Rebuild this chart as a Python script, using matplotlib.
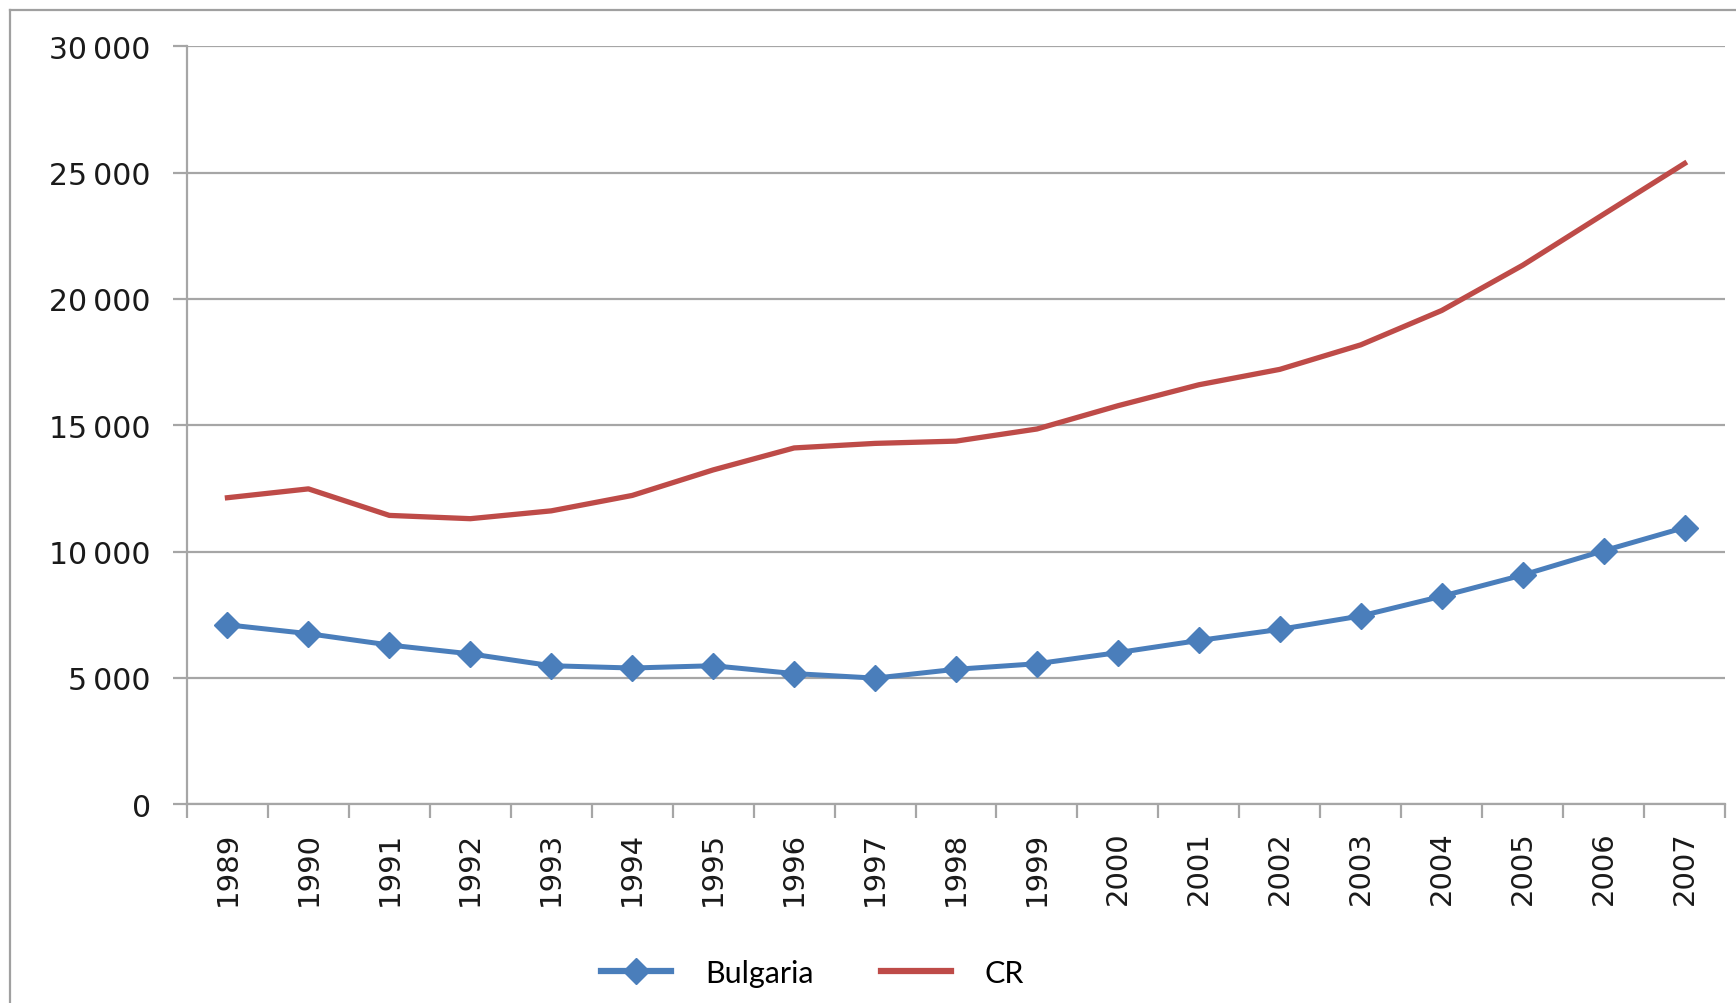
import numpy as np
import matplotlib
matplotlib.use('Agg')
import matplotlib.pyplot as plt
from matplotlib.ticker import FuncFormatter, FixedLocator
from matplotlib.lines import Line2D

# Values
years = [1989, 1990, 1991, 1992, 1993, 1994, 1995, 1996, 1997, 1998,
         1999, 2000, 2001, 2002, 2003, 2004, 2005, 2006, 2007]
bulgaria = [7100, 6750, 6300, 5950, 5480, 5390, 5480, 5170, 4990, 5340,
            5560, 6000, 6480, 6920, 7450, 8230, 9070, 10030, 10950]
cr = [12130, 12480, 11430, 11300, 11610, 12220, 13230, 14100, 14280, 14370,
      14850, 15770, 16600, 17210, 18180, 19540, 21330, 23350, 25360]
yticks = [0, 5000, 10000, 15000, 20000, 25000, 30000]

blue = '#4A7EBB'
red = '#BE4B48'
grid_col = '#a6a6a6'

fig = plt.figure(figsize=(17.36, 10.04), dpi=100)
ax = fig.add_axes([0.1077, 0.198, 0.886, 0.755])

x = np.arange(len(years))
ax.plot(x, bulgaria, color=blue, lw=3.6, marker='D', ms=13, mec=blue, mfc=blue,
        label='Bulgaria', zorder=3)
ax.plot(x, cr, color=red, lw=3.8, label='CR', zorder=3)

ax.set_xlim(-0.5, len(years) - 0.5)
ax.set_ylim(0, 30000)

# y axis: grid lines plus little outward ticks
ax.set_yticks(yticks)
ax.yaxis.set_major_formatter(FuncFormatter(lambda v, p: f'{int(v):,}'.replace(',', '\u2009')))
ax.grid(axis='y', color=grid_col, lw=1.6)
ax.tick_params(axis='y', length=10, width=1.6, color=grid_col, pad=16,
               labelsize=21.5, labelcolor='#1a1a1a')

# x axis: labels at category centres, ticks at category boundaries
ax.set_xticks(x)
ax.set_xticklabels([str(y) for y in years], rotation=90)
ax.xaxis.set_minor_locator(FixedLocator(np.arange(len(years) + 1) - 0.5))
ax.tick_params(axis='x', which='major', length=0, pad=19, labelsize=21,
               labelcolor='#1a1a1a')
ax.tick_params(axis='x', which='minor', length=10, width=1.6, color=grid_col)

for s in ['top', 'right']:
    ax.spines[s].set_visible(False)
for s in ['left', 'bottom']:
    ax.spines[s].set_color(grid_col)
    ax.spines[s].set_linewidth(1.6)
ax.set_axisbelow(True)

# legend at the bottom
handles = [Line2D([], [], color=blue, lw=4.5, marker='D', ms=13),
           Line2D([], [], color=red, lw=4.5)]
fig.legend(handles, ['Bulgaria', 'CR'], loc='center', bbox_to_anchor=(0.468, 0.03),
           ncol=2, frameon=False, handlelength=2.3, handletextpad=1.1,
           columnspacing=2.2, prop={'family': 'Lato', 'size': 22})

# chart area frame (left and top edges visible)
fig.add_artist(Line2D([0.0058, 0.0058], [0, 0.989], color='#a0a0a0', lw=1.6,
                      transform=fig.transFigure))
fig.add_artist(Line2D([0.0058, 1.0], [0.989, 0.989], color='#a0a0a0', lw=1.6,
                      transform=fig.transFigure))

fig.savefig('out.png', dpi=100, facecolor='white')
